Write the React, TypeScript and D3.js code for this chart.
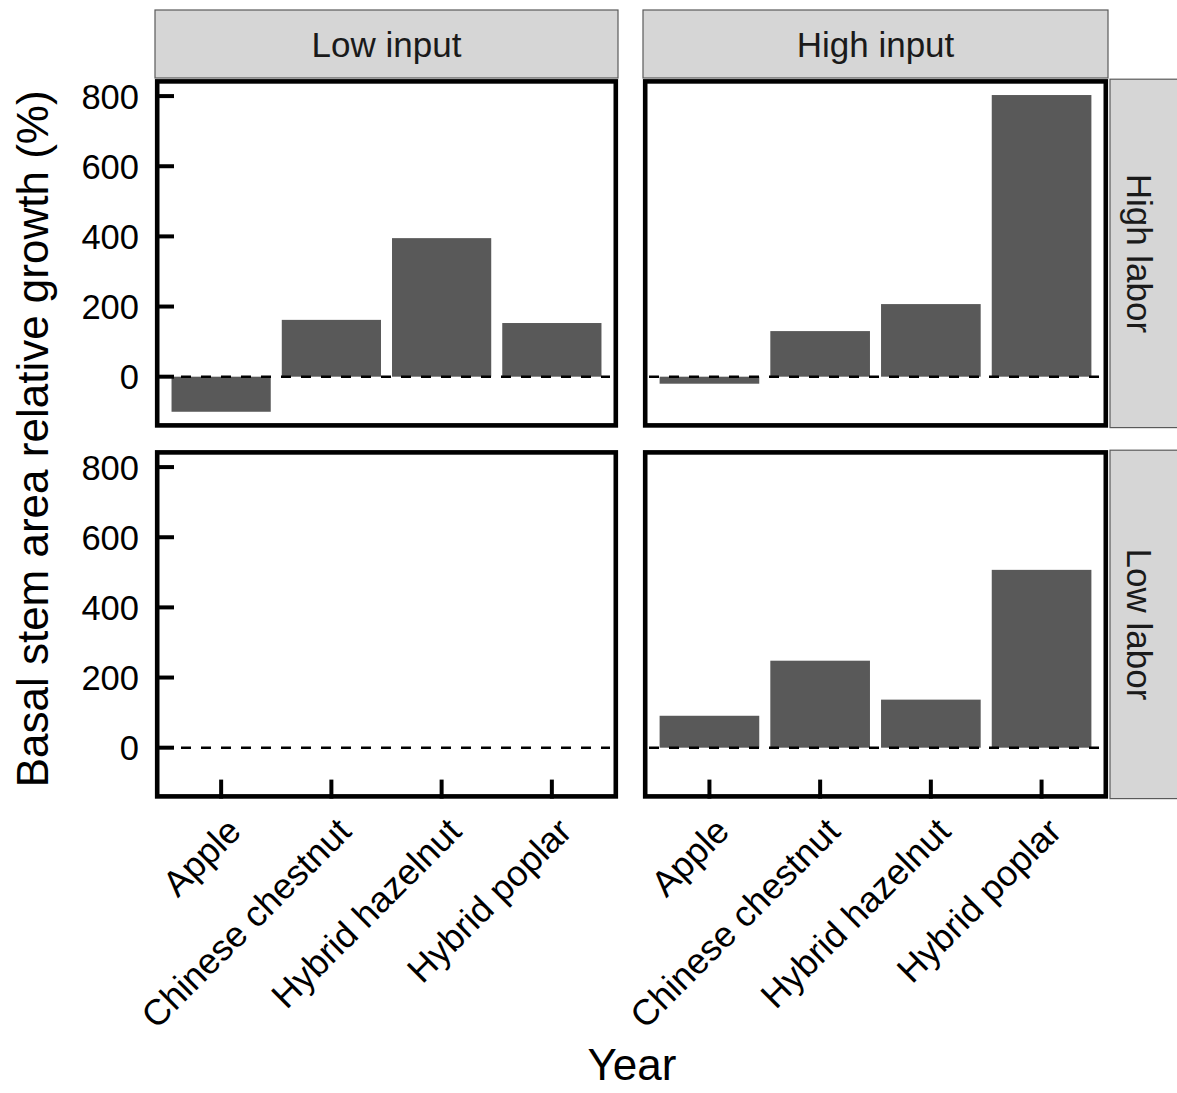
import React from 'react';
import * as d3 from 'd3';

const species = ['Apple', 'Chinese chestnut', 'Hybrid hazelnut', 'Hybrid poplar'];
const inputLevels = ['Low input', 'High input'];
const laborLevels = ['High labor', 'Low labor'];
const yTicks = [0, 200, 400, 600, 800];

// relative growth (%) by species, one array per facet
const lowInputHighLabor = [-100, 162, 395, 153];
const highInputHighLabor = [-20, 130, 207, 803];
const lowInputLowLabor: (number | null)[] = [null, null, null, null];
const highInputLowLabor = [91, 248, 137, 507];

const grid = [
  [lowInputHighLabor, highInputHighLabor],
  [lowInputLowLabor, highInputLowLabor],
];

const font = '"Liberation Sans", Arial, sans-serif';

const colX = [[155, 618], [643, 1108]];
const rowY = [79.2, 450.2];
const panelH = 348.4;

const App = () => {
  const all = grid.flat(2).filter((v) => v != null) as number[];
  const lo = Math.min(0, d3.min(all)!);
  const hi = Math.max(0, d3.max(all)!);
  const pad = (hi - lo) * 0.05;
  const y = d3.scaleLinear().domain([lo - pad, hi + pad]).range([panelH, 0]);

  return (
    <svg width={1177} height={1093} style={{ display: 'block', position: 'absolute', left: 0, top: 0 }}>
      <rect width={1177} height={1093} fill="#fff" />
      {/* top strips */}
      {inputLevels.map((lab, c) => (
        <g key={lab}>
          <rect x={colX[c][0]} y={10} width={colX[c][1] - colX[c][0]} height={68} fill="#d6d6d6" stroke="#5a5a5a" strokeWidth={1.2} />
          <text x={(colX[c][0] + colX[c][1]) / 2} y={57} textAnchor="middle" fontFamily={font} fontSize={35} fill="#1a1a1a">{lab}</text>
        </g>
      ))}
      {/* right strips */}
      {laborLevels.map((lab, r) => (
        <g key={lab}>
          <rect x={1110} y={rowY[r]} width={70} height={panelH} fill="#d6d6d6" stroke="#5a5a5a" strokeWidth={1.2} />
          <text transform={`translate(1127,${rowY[r] + panelH / 2}) rotate(90)`} textAnchor="middle" fontFamily={font} fontSize={35} fill="#1a1a1a">{lab}</text>
        </g>
      ))}
      {grid.map((row, r) =>
        row.map((vals, c) => {
          const x0 = colX[c][0];
          const x1 = colX[c][1];
          // ggplot-like discrete expansion: centres at (i + 0.6) / 4.2 of width
          const xc = d3.scalePoint().domain(species).range([0, x1 - x0]).padding(0.6);
          const unit = (x1 - x0) / 4.2;
          return (
            <g key={`${r}-${c}`} transform={`translate(${x0},${rowY[r]})`}>
              {species.map((s, i) => {
                const v = vals[i];
                if (v == null) return null;
                const cx = xc(s)!;
                return (
                  <rect key={s} x={cx - unit * 0.45} width={unit * 0.9} y={Math.min(y(v), y(0))} height={Math.abs(y(v) - y(0))} fill="#595959" />
                );
              })}
              <line x1={0} x2={x1 - x0 - 8} y1={y(0)} y2={y(0)} stroke="#000" strokeWidth={2.6} strokeDasharray="10 10" strokeDashoffset={-6} />
              {c === 0 &&
                yTicks.map((t) => (
                  <g key={t}>
                    <line x1={0} x2={19} y1={y(t)} y2={y(t)} stroke="#000" strokeWidth={4} />
                    <text x={-16} y={y(t)} dy="0.36em" textAnchor="end" fontFamily={font} fontSize={34.5} fill="#000">{t}</text>
                  </g>
                ))}
              {r === 1 &&
                species.map((s) => (
                  <g key={s}>
                    <line x1={xc(s)!} x2={xc(s)!} y1={panelH} y2={panelH - 19} stroke="#000" strokeWidth={4} />
                    <text transform={`translate(${xc(s)! + 4},${panelH + 17}) rotate(-45)`} textAnchor="end" dy="0.7em" fontFamily={font} fontSize={36} fill="#000">{s}</text>
                  </g>
                ))}
              <rect x={2.2} y={2.2} width={x1 - x0 - 4.4} height={panelH - 4.4} fill="none" stroke="#000" strokeWidth={4.6} />
            </g>
          );
        })
      )}
      <text transform={`translate(48,${(rowY[0] + rowY[1] + panelH) / 2}) rotate(-90)`} textAnchor="middle" fontFamily={font} fontSize={44} fill="#000">Basal stem area relative growth (%)</text>
      <text x={632} y={1080} textAnchor="middle" fontFamily={font} fontSize={44} fill="#000">Year</text>
    </svg>
  );
};

export default App;
